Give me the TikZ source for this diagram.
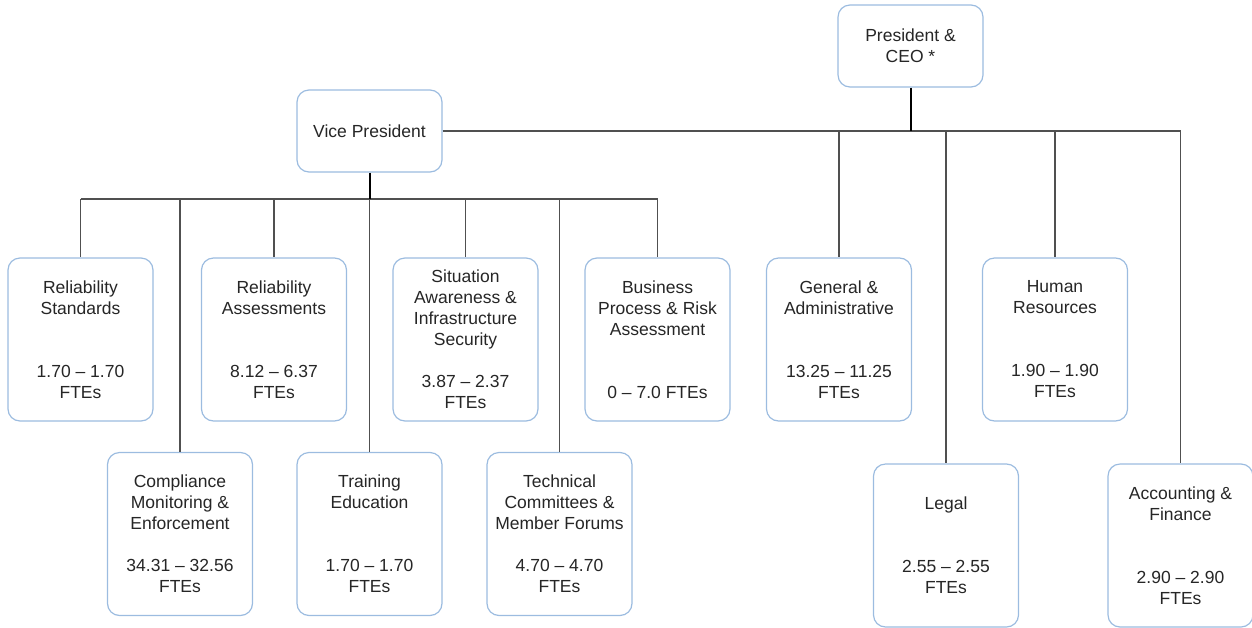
\documentclass[tikz,border=0pt]{standalone}
\usepackage{fontspec}
\setmainfont{Liberation Sans}
\definecolor{boxblue}{HTML}{9CBCE0}
\definecolor{linegray}{HTML}{505050}
\definecolor{txt}{HTML}{262626}
\begin{document}
\begin{tikzpicture}[x=1pt,y=-1pt,
  box/.style={draw=boxblue, line width=1.2pt, rounded corners=12pt, fill=white,
    minimum width=145pt, minimum height=163pt, inner sep=0pt, align=center,
    font=\fontsize{17.5}{21}\selectfont, text=txt},
  smallbox/.style={box, minimum height=82pt},
  link/.style={draw=linegray, line width=1.3pt},
  stem/.style={draw=black, line width=2pt}]
\useasboundingbox (0,0) rectangle (1252,627);
% top
\node[smallbox] (ceo) at (910.5,46) {President \&\\CEO *};
\node[smallbox] (vp) at (369.5,131) {Vice President};
% row 1
\node[box] (rs) at (80.5,339.5) {Reliability\\Standards\\~\\~\\1.70 – 1.70\\FTEs};
\node[box] (ra) at (274,339.5) {Reliability\\Assessments\\~\\~\\8.12 – 6.37\\FTEs};
\node[box] (sa) at (465.5,339.5) {Situation\\Awareness \&\\Infrastructure\\Security\\~\\3.87 – 2.37\\FTEs};
\node[box] (bp) at (657.5,339.5) {Business\\Process \& Risk\\Assessment\\~\\~\\0 – 7.0 FTEs};
\node[box] (ga) at (839,339.5) {General \&\\Administrative\\~\\~\\13.25 – 11.25\\FTEs};
\node[box] (hr) at (1055,339.5) {Human\\Resources\\~\\~\\1.90 – 1.90\\FTEs};
% row 2
\node[box] (cm) at (180,534) {Compliance\\Monitoring \&\\Enforcement\\~\\34.31 – 32.56\\FTEs};
\node[box] (te) at (369.5,534) {Training\\Education\\~\\~\\1.70 – 1.70\\FTEs};
\node[box] (tc) at (559.5,534) {Technical\\Committees \&\\Member Forums\\~\\4.70 – 4.70\\FTEs};
\node[box] (lg) at (946,545.5) {Legal\\~\\~\\2.55 – 2.55\\FTEs};
\node[box] (af) at (1180.5,545.5) {Accounting \&\\Finance\\~\\~\\2.90 – 2.90\\FTEs};
% CEO connectors
\draw[link] (vp.east) -- (vp.east -| af.north) -- (af.north);
\draw[link] (ga.north |- vp.east) -- (ga.north);
\draw[link] (lg.north |- vp.east) -- (lg.north);
\draw[link] (hr.north |- vp.east) -- (hr.north);
\draw[stem] (ceo.south) -- (ceo.south |- vp.east);
% VP connectors
\coordinate (vbus) at (369.5,199);
\draw[link] (rs.north |- vbus) -- (bp.north |- vbus);
\draw[stem] (vp.south) -- (vbus);
\foreach \n in {rs,cm,ra,te,sa,tc,bp}{
  \draw[link] (\n.north |- vbus) -- (\n.north);
}
\end{tikzpicture}
\end{document}
